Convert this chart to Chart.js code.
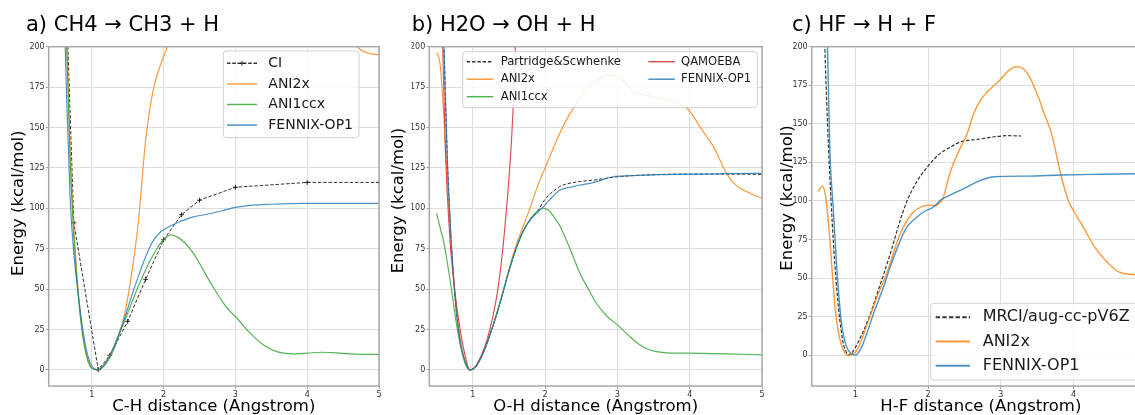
<!DOCTYPE html>
<html>
<head>
<meta charset="utf-8">
<style>
  html, body { margin: 0; padding: 0; background: #fff; overflow: hidden; }
  .panel { position: absolute; top: 0; height: 415px; }
</style>
</head>
<body>
<div class="panel" style="left:0px;width:384px"><canvas id="chA" width="384" height="415"></canvas></div>
<div class="panel" style="left:384px;width:382px"><canvas id="chB" width="382" height="415"></canvas></div>
<div class="panel" style="left:766px;width:384px"><canvas id="chC" width="384" height="415"></canvas></div>
<script src="https://cdn.jsdelivr.net/npm/chart.js"></script>
<script>
// a) CH4 -> CH3 + H  (distance in Angstrom, energy in kcal/mol)
var rA_ci = [0.5, 0.75, 1.09, 1.25, 1.5, 1.75, 2.0, 2.25, 2.5, 3.0, 4.0, 5.0];
var eA_ci = [420, 91, 0, 9, 30, 56, 80.5, 96, 105, 113, 116, 116];
var rA_ani2x = [0.6, 0.65, 0.7, 0.75, 0.8, 0.85, 0.9, 0.95, 1.0, 1.08, 1.15, 1.25, 1.35, 1.45, 1.55, 1.65, 1.75, 1.85, 1.95, 2.05, 2.3, 3.0, 4.0, 4.5, 4.7, 4.85, 5.0];
var eA_ani2x = [300, 207, 135, 88, 55, 31, 15, 5.5, 1.2, 0, 2, 9, 19, 33, 58, 92, 142, 172, 188, 200, 250, 320, 300, 220, 200, 196, 195];
var rA_ani1ccx = [0.6, 0.65, 0.7, 0.75, 0.8, 0.85, 0.9, 0.95, 1.0, 1.09, 1.2, 1.3, 1.4, 1.5, 1.6, 1.7, 1.8, 1.9, 2.0, 2.1, 2.2, 2.3, 2.4, 2.5, 2.6, 2.7, 2.8, 2.9, 3.0, 3.2, 3.4, 3.6, 3.8, 4.0, 4.2, 4.4, 4.6, 4.8, 5.0];
var eA_ani1ccx = [290, 200, 128, 83, 52, 29, 14, 5, 1, 0, 4, 12, 24, 35, 46.5, 57, 66.5, 74.5, 80.5, 83.5, 82, 78.5, 73, 66, 58, 50.5, 43.5, 37.5, 33, 23, 15, 11, 9.9, 10.3, 10.9, 10.5, 9.9, 9.6, 9.6];
var rA_fennix = [0.6, 0.65, 0.7, 0.75, 0.8, 0.85, 0.9, 0.95, 1.0, 1.08, 1.15, 1.25, 1.35, 1.45, 1.55, 1.65, 1.75, 1.85, 1.95, 2.05, 2.2, 2.4, 2.6, 2.8, 3.0, 3.2, 3.5, 4.0, 5.0];
var eA_fennix = [250, 168, 105, 72, 51, 33, 18, 8, 2.5, 0, 2, 8.5, 19, 31, 45, 58, 70, 79.5, 85, 88, 91.2, 94.5, 96.3, 98.3, 100.5, 101.8, 102.5, 103, 103];

// b) H2O -> OH + H
var rB_ps = [0.55, 0.6, 0.65, 0.7, 0.75, 0.8, 0.85, 0.9, 0.96, 1.05, 1.15, 1.3, 1.4, 1.5, 1.6, 1.7, 1.8, 1.9, 2.0, 2.1, 2.2, 2.4, 2.7, 3.0, 3.4, 4.0, 5.0];
var eB_ps = [300, 205, 130, 82, 48, 26, 12.5, 4.5, 0, 2.5, 11, 30, 45, 61, 75, 86, 93.5, 98.5, 105.5, 110, 113.4, 116, 117.6, 119.5, 120.6, 121.2, 121];
var rB_ani2x = [0.5, 0.53, 0.55, 0.6, 0.65, 0.7, 0.75, 0.8, 0.85, 0.9, 0.96, 1.05, 1.15, 1.3, 1.4, 1.5, 1.6, 1.7, 1.8, 1.9, 2.02, 2.16, 2.3, 2.44, 2.58, 2.7, 2.8, 2.9, 3.0, 3.1, 3.22, 3.4, 3.68, 3.85, 3.96, 4.05, 4.14, 4.33, 4.51, 4.6, 4.7, 4.85, 5.0];
var eB_ani2x = [196, 194, 189, 158, 118, 80, 50, 28, 13, 4.5, 0, 2.5, 11, 30, 45, 62, 77, 89, 101, 114, 127, 142, 155, 165, 174, 178.5, 181.5, 182.5, 181.5, 178, 172, 170, 167, 164.5, 161.9, 157, 150.5, 138, 121.6, 116, 112.4, 109, 106.2];
var rB_ani1ccx = [0.5, 0.55, 0.6, 0.65, 0.7, 0.75, 0.8, 0.85, 0.9, 0.96, 1.05, 1.15, 1.3, 1.4, 1.5, 1.6, 1.7, 1.8, 1.9, 1.98, 2.05, 2.12, 2.21, 2.35, 2.48, 2.6, 2.71, 2.85, 3.0, 3.15, 3.31, 3.45, 3.64, 4.0, 4.5, 5.0];
var eB_ani1ccx = [97, 88, 79, 66, 52, 36, 22, 11, 3.5, 0, 2.5, 11, 30, 45, 61, 75, 86, 93.5, 98.5, 100, 98.8, 95, 88.7, 74.5, 60, 50, 41.2, 33.5, 27.8, 21.5, 15.5, 12.3, 10.7, 10.3, 9.9, 9.3];
var rB_qamoeba = [0.55, 0.585, 0.62, 0.65, 0.69, 0.73, 0.78, 0.87, 0.963, 1.05, 1.2, 1.33, 1.4, 1.47, 1.52, 1.56, 1.59, 1.65];
var eB_qamoeba = [290, 200, 140, 108, 78, 58, 39, 14, 0, 3, 19, 45, 68, 101, 130, 163, 200, 260];
var rB_fennix = [0.55, 0.6, 0.65, 0.7, 0.75, 0.8, 0.85, 0.9, 0.96, 1.05, 1.15, 1.3, 1.4, 1.5, 1.6, 1.7, 1.8, 1.9, 2.0, 2.1, 2.21, 2.35, 2.48, 2.6, 2.71, 2.94, 3.2, 3.6, 4.0, 4.5, 5.0];
var eB_fennix = [290, 205, 130, 82, 48, 26, 12.5, 4.5, 0, 2.5, 11, 30, 45, 61, 75, 86, 93, 97.5, 102, 107, 111.3, 113, 114.4, 115.3, 116.5, 119.5, 120.2, 120.8, 121, 121.4, 121.6];

// c) HF -> H + F
var rC_mrci = [0.55, 0.58, 0.63, 0.7, 0.77, 0.83, 0.87, 0.903, 0.95, 1.0, 1.1, 1.2, 1.3, 1.4, 1.5, 1.62, 1.71, 1.85, 1.99, 2.08, 2.17, 2.31, 2.45, 2.68, 2.91, 3.1, 3.28];
var eC_mrci = [250, 200, 136, 72, 30, 8.5, 2.5, 0, 1.5, 5, 14.5, 26, 40, 54, 69, 88, 100, 113, 122, 127, 131, 135, 138.4, 139.9, 141.6, 142.3, 142.1];
var rC_ani2x = [0.488, 0.548, 0.604, 0.65, 0.72, 0.79, 0.85, 0.88, 0.926, 0.97, 1.02, 1.1, 1.2, 1.3, 1.43, 1.62, 1.8, 1.94, 2.0, 2.1, 2.15, 2.2, 2.3, 2.4, 2.54, 2.63, 2.73, 2.82, 2.91, 3.0, 3.095, 3.21, 3.3, 3.4, 3.51, 3.6, 3.695, 3.83, 3.93, 4.02, 4.11, 4.29, 4.48, 4.62, 4.76, 4.9, 5.1];
var eC_ani2x = [106, 109.6, 98.4, 74.6, 31.3, 9.7, 2, 0.4, 0, 1, 3, 12, 25, 38, 53, 79, 93, 96.6, 97.3, 97, 98.4, 101, 118, 130, 144, 157, 166, 171, 175, 179, 184, 187, 186, 180, 168, 156, 144, 116, 100, 92, 85, 70, 59.5, 54, 52.5, 52.3, 52.3];
var rC_fennix = [0.6, 0.617, 0.65, 0.695, 0.75, 0.81, 0.88, 0.94, 1.0, 1.065, 1.158, 1.25, 1.388, 1.48, 1.62, 1.71, 1.85, 1.94, 2.08, 2.17, 2.31, 2.45, 2.73, 2.91, 3.37, 3.83, 4.4, 5.1];
var eC_fennix = [225, 200, 132, 96, 53, 20.5, 5.4, 1, 0, 3.2, 14, 27, 44.3, 57.3, 74.6, 83.2, 89.7, 93, 96.2, 100.5, 104, 107, 113.5, 115.7, 116.1, 116.8, 117.3, 117.8];

var blue = 'rgba(31,119,180,0.8)';
var orange = 'rgba(255,127,14,0.8)';
var green = 'rgba(44,160,44,0.8)';
var red = 'rgba(214,39,40,0.8)';
var black = 'rgba(0,0,0,0.8)';

Chart.defaults.font.family = '"DejaVu Sans", sans-serif';

function pts(r, e) {
  return r.map(function (x, i) { return { x: x, y: e[i] }; });
}

function curve(label, r, e, color, width, extra) {
  var d = { label: label, data: pts(r, e), borderColor: color, backgroundColor: color, borderWidth: width, fill: false };
  if (extra) Object.assign(d, extra);
  return d;
}

// box around the plot area, like matplotlib spines
var framePlugin = {
  id: 'frame',
  afterDatasetsDraw: function (chart) {
    var a = chart.chartArea, ctx = chart.ctx;
    ctx.save();
    ctx.strokeStyle = '#a8a8a8';
    ctx.lineWidth = 1.5;
    ctx.strokeRect(a.left, a.top, a.right - a.left, a.bottom - a.top);
    ctx.restore();
  }
};

// legend drawn inside the axes
var boxLegend = {
  id: 'boxLegend',
  afterDraw: function (chart, args, o) {
    var ctx = chart.ctx;
    ctx.save();
    ctx.fillStyle = 'rgba(255,255,255,0.85)';
    ctx.strokeStyle = '#d0d0d0';
    ctx.lineWidth = 1;
    ctx.beginPath();
    ctx.roundRect(o.x, o.y, o.w, o.h, 3);
    ctx.fill();
    ctx.stroke();
    ctx.font = o.size + 'px "DejaVu Sans"';
    ctx.textBaseline = 'middle';
    ctx.textAlign = 'left';
    o.cols.forEach(function (col) {
      col.idx.forEach(function (k, row) {
        var ds = chart.data.datasets[k];
        var y = o.y0 + row * o.dy;
        ctx.strokeStyle = ds.borderColor;
        ctx.lineWidth = o.lw;
        ctx.setLineDash(ds.borderDash ? ds.borderDash.map(function (v) { return v * o.dash; }) : []);
        ctx.beginPath();
        ctx.moveTo(col.x, y);
        ctx.lineTo(col.x + o.len, y);
        ctx.stroke();
        ctx.setLineDash([]);
        if (ds.pointStyle === 'cross') {
          var cx = col.x + o.len / 2;
          ctx.lineWidth = 1;
          ctx.beginPath();
          ctx.moveTo(cx - 2.5, y); ctx.lineTo(cx + 2.5, y);
          ctx.moveTo(cx, y - 2.5); ctx.lineTo(cx, y + 2.5);
          ctx.stroke();
        }
        ctx.fillStyle = '#1a1a1a';
        ctx.fillText(ds.label, col.x + col.gap, y);
      });
    });
    ctx.restore();
  }
};

function makeChart(id, p, datasets) {
  var n = datasets.length;
  datasets.forEach(function (d, i) { d.order = n - i; });
  var tickFont = { size: 8 };
  var gridOpts = { color: '#dedede', lineWidth: 1, tickLength: 3, tickColor: '#a8a8a8' };
  return new Chart(document.getElementById(id), {
    type: 'line',
    data: { datasets: datasets },
    options: {
      responsive: false,
      animation: false,
      layout: { padding: { left: p.padLeft, right: p.padRight, top: 0, bottom: 0 } },
      elements: {
        line: { capBezierPoints: false, cubicInterpolationMode: 'monotone' },
        point: { radius: 0 }
      },
      plugins: {
        legend: { display: false },
        tooltip: { enabled: false },
        title: {
          display: true, text: p.title, align: 'start', color: '#000',
          font: { size: 21, weight: 'normal' },
          padding: { top: 12.7, bottom: 8.8 }
        },
        boxLegend: p.legend
      },
      scales: {
        x: {
          type: 'linear', min: 0.4, max: p.xMax,
          ticks: { stepSize: 1, padding: 1, color: '#333', font: tickFont, maxRotation: 0, autoSkip: false },
          grid: gridOpts,
          border: { display: false },
          title: { display: true, text: p.xTitle, color: '#000', font: { size: 16.5, lineHeight: 1 }, padding: { top: 0, bottom: 0 } },
          afterBuildTicks: function (s) {
            s.ticks = s.ticks.filter(function (t) { return t.value >= 1 && Number.isInteger(t.value); });
          },
          afterFit: function (s) { s.height = 29; }
        },
        y: {
          type: 'linear', min: p.yMin, max: 200,
          ticks: { stepSize: 25, padding: 1, color: '#333', font: tickFont },
          grid: gridOpts,
          border: { display: false },
          title: { display: true, text: p.yTitle, color: '#000', font: { size: 16.5, lineHeight: 1.2 }, padding: { top: p.yTitlePad, bottom: 0 } },
          afterBuildTicks: function (s) {
            s.ticks = s.ticks.filter(function (t) { return t.value >= 0 && t.value % 25 === 0; });
          },
          afterFit: function (s) { s.width = p.yWidth; }
        }
      }
    },
    plugins: [framePlugin, boxLegend]
  });
}

makeChart('chA', {
  title: 'a) CH4 \u2192 CH3 + H', xTitle: 'C-H distance (Angstrom)', yTitle: '     Energy (kcal/mol)',
  padLeft: 26, padRight: 3, yWidth: 22.7, yTitlePad: -16.9, xMax: 5, yMin: -10,
  legend: { x: 223.3, y: 51, w: 135.7, h: 86.7, size: 14, lw: 1.5, dash: 1, len: 30, y0: 63.3, dy: 20.6,
            cols: [{ x: 227, gap: 41.3, idx: [0, 1, 2, 3] }] }
}, [
  curve('CI', rA_ci, eA_ci, black, 1, { borderDash: [3.5, 1.8], cubicInterpolationMode: 'default', tension: 0,
        pointStyle: 'cross', pointRadius: 2.5, pointBorderWidth: 1, pointBorderColor: black }),
  curve('ANI2x', rA_ani2x, eA_ani2x, orange, 1.2),
  curve('ANI1ccx', rA_ani1ccx, eA_ani1ccx, green, 1.2),
  curve('FENNIX-OP1', rA_fennix, eA_fennix, blue, 1.2)
]);

makeChart('chB', {
  title: 'b) H2O \u2192 OH + H', xTitle: 'O-H distance (Angstrom)', yTitle: '      Energy (kcal/mol)',
  padLeft: 27.7, padRight: 4, yWidth: 17.6, yTitlePad: -22.8, xMax: 5, yMin: -10,
  legend: { x: 78.7, y: 51.7, w: 294.6, h: 56, size: 11.6, lw: 1.5, dash: 1, len: 26.6, y0: 61.7, dy: 17.5,
            cols: [{ x: 82.7, gap: 34, idx: [0, 1, 2] }, { x: 264.3, gap: 32.7, idx: [3, 4] }] }
}, [
  curve('Partridge&Scwhenke', rB_ps, eB_ps, black, 1, { borderDash: [3.5, 1.8] }),
  curve('ANI2x', rB_ani2x, eB_ani2x, orange, 1.2),
  curve('ANI1ccx', rB_ani1ccx, eB_ani1ccx, green, 1.2),
  curve('QAMOEBA', rB_qamoeba, eB_qamoeba, red, 1.2),
  curve('FENNIX-OP1', rB_fennix, eB_fennix, blue, 1.2)
]);

makeChart('chC', {
  title: 'c) HF \u2192 H + F', xTitle: 'H-F distance (Angstrom)', yTitle: '       Energy (kcal/mol)',
  padLeft: 26, padRight: 0, yWidth: 19.7, yTitlePad: -14.4, xMax: 5.05, yMin: -20,
  legend: { x: 164.7, y: 303.3, w: 212, h: 76.7, size: 16, lw: 2, dash: 1.25, len: 34.3, y0: 317.3, dy: 24.2,
            cols: [{ x: 169.7, gap: 47, idx: [0, 1, 2] }] }
}, [
  curve('MRCI/aug-cc-pV6Z', rC_mrci, eC_mrci, black, 1.2, { borderDash: [3.5, 1.8] }),
  curve('ANI2x', rC_ani2x, eC_ani2x, orange, 1.4),
  curve('FENNIX-OP1', rC_fennix, eC_fennix, blue, 1.4)
]);
</script>
</body>
</html>
